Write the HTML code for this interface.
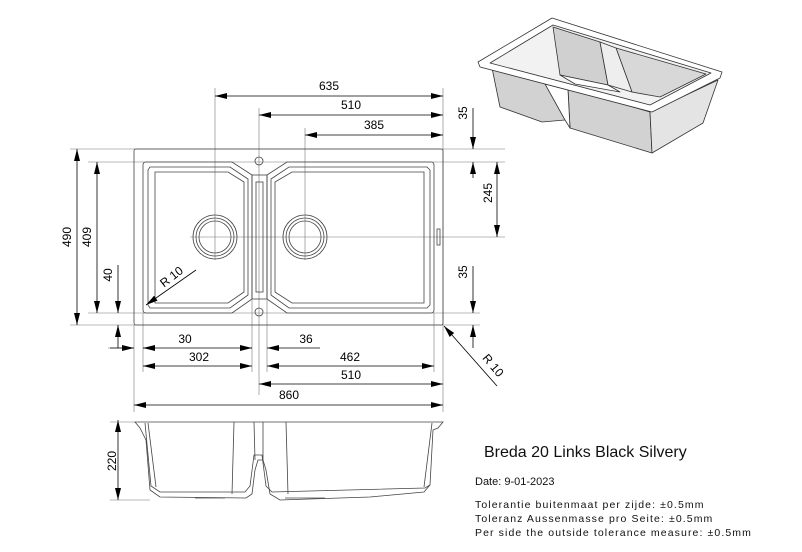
<!DOCTYPE html>
<html><head><meta charset="utf-8"><style>
html,body{margin:0;padding:0;background:#fff;}
svg{display:block;font-family:"Liberation Sans",sans-serif;}
</style></head><body>
<svg width="802" height="552" viewBox="0 0 802 552" xmlns="http://www.w3.org/2000/svg">
<defs>
<marker id="a" markerWidth="12" markerHeight="6" refX="12" refY="3" orient="auto" markerUnits="userSpaceOnUse"><path d="M0,0 L12,3 L0,6 z" fill="#000"/></marker>
<marker id="b" markerWidth="12" markerHeight="6" refX="0" refY="3" orient="auto" markerUnits="userSpaceOnUse"><path d="M12,0 L0,3 L12,6 z" fill="#000"/></marker>
</defs>
<g stroke="#777" stroke-width="0.6" fill="none">
<line x1="70" y1="149" x2="505" y2="149"/>
<line x1="88" y1="162" x2="505" y2="162"/>
<line x1="190" y1="237" x2="505" y2="237"/>
<line x1="88" y1="313" x2="480" y2="313"/>
<line x1="70" y1="325" x2="480" y2="325"/>
<line x1="215" y1="88" x2="215" y2="260"/>
<line x1="259" y1="108" x2="259" y2="395"/>
<line x1="305" y1="128" x2="305" y2="260"/>
<line x1="443" y1="88" x2="443" y2="412"/>
<line x1="134" y1="325" x2="134" y2="412"/>
<line x1="143" y1="313" x2="143" y2="372"/>
<line x1="252" y1="300" x2="252" y2="372"/>
<line x1="267" y1="300" x2="267" y2="372"/>
<line x1="434" y1="313" x2="434" y2="372"/>
<line x1="108" y1="348" x2="130" y2="348"/>
</g>
<g stroke="#444" stroke-width="0.8" fill="none">
<rect x="134" y="149" width="309" height="176" rx="2"/>
<path d="M146,162 L232,162 L252,175 L252,299 L232,313 L146,313 Q143,313 143,310 L143,165 Q143,162 146,162z"/>
<path d="M150,167 L230,167 L248,179 L248,295 L230,308 L150,308 L148,305 L148,170z"/>
<path d="M155,172 L228,172 L244,182 L244,292 L228,303 L155,303 Z"/>
<path d="M287,162 L431,162 Q434,162 434,165 L434,310 Q434,313 431,313 L287,313 L267,299 L267,175 Z"/>
<path d="M289,167 L427,167 L430,170 L430,305 L427,308 L289,308 L271,295 L271,179 Z"/>
<path d="M292,172 L424,172 L424,303 L292,303 L275,292 L275,182 Z"/>
<rect x="252" y="175" width="15" height="124"/>
<rect x="256" y="182" width="7" height="110"/>
<circle cx="215" cy="237" r="22"/><circle cx="215" cy="237" r="19"/><circle cx="215" cy="237" r="16"/>
<circle cx="305" cy="237" r="22"/><circle cx="305" cy="237" r="19"/><circle cx="305" cy="237" r="16"/>
<circle cx="259" cy="161" r="4"/><circle cx="259" cy="312" r="4"/>
<rect x="437" y="229" width="3" height="16"/>
</g>
<g stroke="#000" stroke-width="0.8" fill="none">
<line x1="215" y1="96" x2="443" y2="96" marker-start="url(#b)" marker-end="url(#a)"/>
<line x1="259" y1="115" x2="443" y2="115" marker-start="url(#b)" marker-end="url(#a)"/>
<line x1="305" y1="135" x2="443" y2="135" marker-start="url(#b)" marker-end="url(#a)"/>
<line x1="77" y1="149" x2="77" y2="325" marker-start="url(#b)" marker-end="url(#a)"/>
<line x1="97" y1="162" x2="97" y2="313" marker-start="url(#b)" marker-end="url(#a)"/>
<line x1="118" y1="265" x2="118" y2="313" marker-end="url(#a)"/>
<line x1="118" y1="348" x2="118" y2="325" marker-end="url(#a)"/>
<line x1="473" y1="108" x2="473" y2="149" marker-end="url(#a)"/>
<line x1="473" y1="178" x2="473" y2="162" marker-end="url(#a)"/>
<line x1="497" y1="162" x2="497" y2="237" marker-start="url(#b)" marker-end="url(#a)"/>
<line x1="473" y1="266" x2="473" y2="313" marker-end="url(#a)"/>
<line x1="473" y1="348" x2="473" y2="325" marker-end="url(#a)"/>
<line x1="110" y1="348" x2="134" y2="348" marker-end="url(#a)"/>
<line x1="143" y1="348" x2="252" y2="348"/>
<line x1="143" y1="348" x2="155" y2="348" marker-start="url(#b)"/>
<line x1="240" y1="348" x2="252" y2="348" marker-end="url(#a)"/>
<line x1="267" y1="348" x2="320" y2="348" marker-start="url(#b)"/>
<line x1="143" y1="366" x2="252" y2="366" marker-start="url(#b)" marker-end="url(#a)"/>
<line x1="267" y1="366" x2="434" y2="366" marker-start="url(#b)" marker-end="url(#a)"/>
<line x1="259" y1="384" x2="443" y2="384" marker-start="url(#b)" marker-end="url(#a)"/>
<line x1="134" y1="405" x2="443" y2="405" marker-start="url(#b)" marker-end="url(#a)"/>
<line x1="497" y1="386" x2="444" y2="326" marker-end="url(#a)"/>
<line x1="196" y1="270" x2="146" y2="305" marker-end="url(#a)"/>
<line x1="118" y1="420" x2="118" y2="500" marker-start="url(#b)" marker-end="url(#a)"/>
<line x1="110" y1="422" x2="135" y2="422" stroke="#777" stroke-width="0.6"/>
<line x1="110" y1="500" x2="150" y2="500" stroke="#777" stroke-width="0.6"/>
</g>
<g font-size="12" fill="#000" text-anchor="middle">
<text x="329" y="90">635</text>
<text x="351" y="109">510</text>
<text x="374" y="129">385</text>
<text x="185" y="343">30</text>
<text x="306" y="343">36</text>
<text x="199" y="361">302</text>
<text x="350" y="361">462</text>
<text x="351" y="379">510</text>
<text x="289" y="399">860</text>
<text transform="translate(71,237) rotate(-90)">490</text>
<text transform="translate(91,237) rotate(-90)">409</text>
<text transform="translate(112,275) rotate(-90)">40</text>
<text transform="translate(116,461) rotate(-90)">220</text>
<text transform="translate(467,113) rotate(-90)">35</text>
<text transform="translate(492,193) rotate(-90)">245</text>
<text transform="translate(467,272) rotate(-90)">35</text>
<text transform="translate(174,280) rotate(-38)">R 10</text>
<text transform="translate(490,368) rotate(50)">R 10</text>
</g>
<g stroke="#444" stroke-width="0.8" fill="none">
<path d="M135,422 L443,422 L438,428 L433,430 L430,485 L424,492 L370,497 L280,500 L270,494 L266,470 L263,460 L258,460 L255,470 L252,494 L246,498 L160,497 L150,490 L146,440 L140,428 Z"/>
<path d="M145,423 L151,486 L160,492 L245,492 L250,486 L254,455 L262,455 L266,486 L272,492 L425,488 L430,485"/>
<line x1="148" y1="423" x2="156" y2="487"/>
<line x1="432" y1="423" x2="424" y2="487"/>
<line x1="234" y1="422" x2="232" y2="494"/>
<line x1="286" y1="422" x2="288" y2="494"/>
<line x1="254" y1="422" x2="255" y2="460"/>
<line x1="263" y1="422" x2="263" y2="460"/>
<line x1="195" y1="498" x2="225" y2="498"/>
<line x1="285" y1="498" x2="325" y2="498"/>
</g>
<!-- 3D view -->
<g stroke="#333" stroke-width="0.8" stroke-linejoin="round">
<path d="M492,68 L560,86 L565,120 L542,122 L500,107 Z" fill="#d2d2d2"/>
<path d="M568,88 L650,112 L652,153 L570,128 Z" fill="#d2d2d2"/>
<path d="M650,112 L718,80 L703,123 L652,153 Z" fill="#e4e4e4"/>
<path d="M545,84 L568,90 L570,128 L565,120 Z" fill="#fff"/>
<path d="M478,62 L552,18 L722,72 L720,78 L652,112 L480,67 Z" fill="#fff"/>
<path d="M490,63 L553,25 L711,73 L650,105 Z" fill="#f2f2f2"/>
<path d="M553,27 L600,42 L608,85 L560,75 Z" fill="#d0d0d0"/>
<path d="M616,48 L706,74 L660,97 L632,92 Z" fill="#d8d8d8"/>
<path d="M560,75 L608,85 L620,92 L575,84 Z" fill="#fff"/>
<path d="M600,42 L616,48 L632,92 L608,85 Z" fill="#eee"/>
</g>
<g fill="#111">
<text x="484" y="457" font-size="16">Breda 20 Links Black Silvery</text>
<text x="475" y="485" font-size="11">Date: 9-01-2023</text>
<text x="475" y="508" font-size="10.5" letter-spacing="1.1">Tolerantie buitenmaat per zijde: ±0.5mm</text>
<text x="475" y="522" font-size="10.5" letter-spacing="1.1">Toleranz Aussenmasse pro Seite: ±0.5mm</text>
<text x="475" y="536" font-size="10.5" letter-spacing="1.1">Per side the outside tolerance measure: ±0.5mm</text>
</g>
</svg>
</body></html>
